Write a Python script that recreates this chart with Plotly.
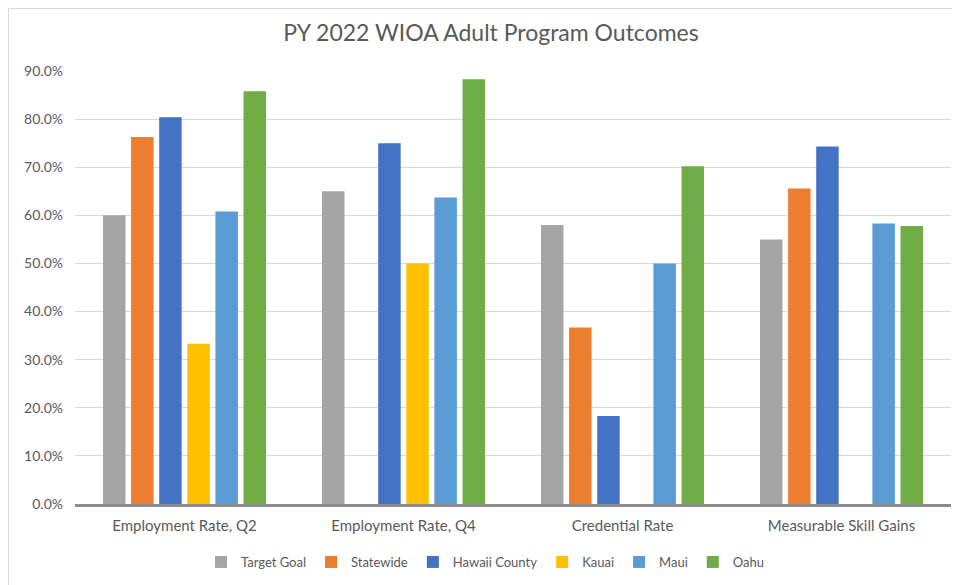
import plotly.graph_objects as go

# data (percent)
categories = ['Employment Rate, Q2', 'Employment Rate, Q4', 'Credential Rate', 'Measurable Skill Gains']
target_goal = [60.0, 65.0, 58.0, 55.0]
statewide = [76.3, None, 36.7, 65.6]
hawaii_county = [80.4, 75.0, 18.3, 74.3]
kauai = [33.3, 50.0, None, None]
maui = [60.8, 63.7, 50.0, 58.3]
oahu = [85.8, 88.3, 70.2, 57.8]

series = [
    ('Target Goal', target_goal, '#A5A5A5'),
    ('Statewide', statewide, '#ED7D31'),
    ('Hawaii County', hawaii_county, '#4472C4'),
    ('Kauai', kauai, '#FFC000'),
    ('Maui', maui, '#5B9BD5'),
    ('Oahu', oahu, '#70AD47'),
]

# the page body adds an 8px offset, so figure coords = screen coords - 8
OFF = 8


def main():
    fig = go.Figure()
    for name, vals, color in series:
        fig.add_trace(go.Bar(x=categories, y=vals, name=name, marker_color=color,
                             marker_line_width=0))

    font = 'Lato, "Open Sans", sans-serif'
    # plot area on screen: x 75..951, y 71..504
    left, right, top, bottom = 75 - OFF, 951 - OFF, 71 - OFF, 504 - OFF
    pw, ph = right - left, bottom - top
    fig.update_layout(
        width=960, height=585,
        margin=dict(l=left, r=960 - right, t=top, b=585 - bottom, autoexpand=False),
        paper_bgcolor='white', plot_bgcolor='white',
        font=dict(family=font, color='#595959', size=14),
        title=dict(text='PY 2022 WIOA Adult Program Outcomes', x=(491 - OFF) / 960,
                   xref='container', xanchor='center', y=1 - (33 - OFF) / 585,
                   yanchor='middle', automargin=False,
                   font=dict(size=23, color='#595959')),
        barmode='group', bargap=0.23, bargroupgap=0.2,
        showlegend=True,
        legend=dict(orientation='h', x=(485 - OFF - left) / pw, xanchor='center',
                    y=(bottom - (562 - OFF)) / ph, yanchor='middle',
                    font=dict(size=13, color='#595959'), itemwidth=30,
                    traceorder='normal'),
    )
    fig.update_yaxes(range=[0, 90], dtick=10, tickformat='.1f', ticksuffix='%',
                     showgrid=True, gridcolor='#D9D9D9', gridwidth=1,
                     zeroline=False, showline=False, ticklabelstandoff=11,
                     automargin=False, tickfont=dict(size=14, color='#595959'))
    fig.update_xaxes(showline=True, linecolor='#8C8C8C', linewidth=3,
                     tickfont=dict(size=15, color='#595959'), ticks='',
                     ticklabelstandoff=6, automargin=False)

    # outer chart border (left and top edges visible)
    fig.add_shape(type='rect', xref='paper', yref='paper',
                  x0=(0.5 - left) / pw, x1=(990 - left) / pw,
                  y0=(bottom - 620) / ph, y1=(bottom - 0.5) / ph,
                  line=dict(color='#D9D9D9', width=1), layer='below')

    fig.write_html('out.html')


if __name__ == '__main__':
    main()
